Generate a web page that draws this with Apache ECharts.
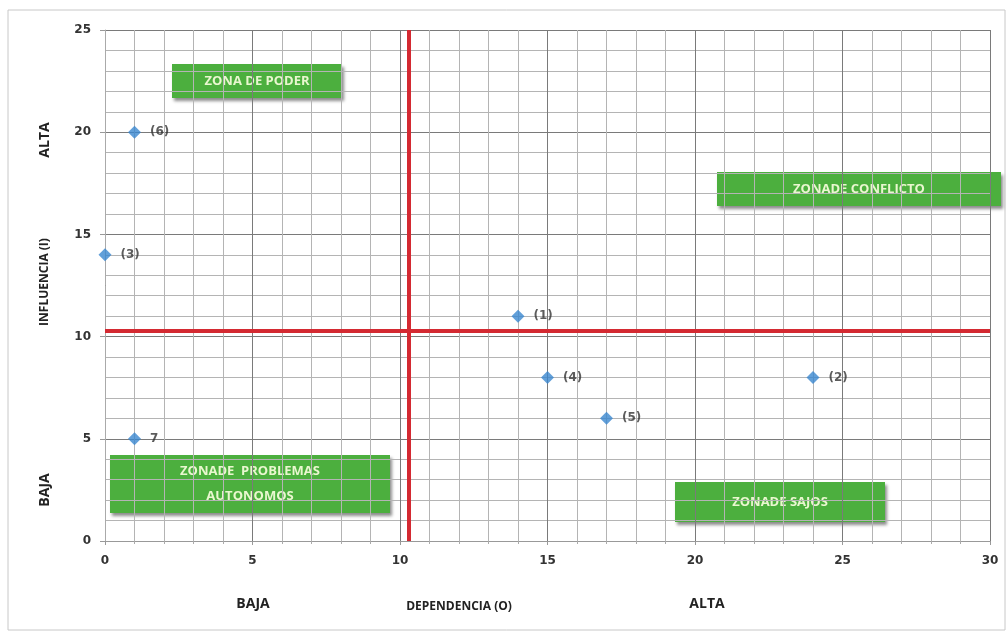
<!DOCTYPE html>
<html>
<head>
<meta charset="utf-8">
<script src="https://cdn.jsdelivr.net/npm/echarts@6/dist/echarts.min.js"></script>
<style>
html,body{margin:0;padding:0;background:#fff;}
#chart{width:1008px;height:634px;}
</style>
</head>
<body>
<div id="chart"></div>
<script>
// Data
const pointLabels = ['(1)', '(2)', '(3)', '(4)', '(5)', '(6)', '7'];
const dependencia = [14, 24, 0, 15, 17, 1, 1];   // x
const influencia  = [11, 8, 14, 8, 6, 20, 5];    // y
const xTicks = [0, 5, 10, 15, 20, 25, 30];
const yTicks = [0, 5, 10, 15, 20, 25];

const meanX = dependencia.reduce((a, b) => a + b, 0) / dependencia.length;
const meanY = influencia.reduce((a, b) => a + b, 0) / influencia.length;

const points = dependencia.map((x, i) => ({ value: [x, influencia[i]], name: pointLabels[i] }));

const chart = echarts.init(document.getElementById('chart'), null, { renderer: 'canvas' });

const tickFont = { color: '#333', fontSize: 12, fontWeight: 'bold', fontFamily: 'DejaVu Sans' };
const titleFont = { fill: '#222', fontSize: 14, fontWeight: 'bold', fontFamily: 'Open Sans, Liberation Sans, sans-serif' };
const green = '#4caf3e';
const boxText = { fill: '#e9f7cf', fontSize: 13, fontWeight: 'bold', fontFamily: 'Open Sans', align: 'center', verticalAlign: 'middle', lineHeight: 25 };
const boxShadow = { shadowBlur: 3, shadowColor: 'rgba(0,0,0,0.45)', shadowOffsetX: 2, shadowOffsetY: 3 };

function box(x, y, w, h, text) {
  return {
    type: 'group', z: 100,
    children: [
      { type: 'rect', shape: { x: x, y: y, width: w, height: h }, style: Object.assign({ fill: green }, boxShadow) },
      { type: 'text', x: x + w / 2, y: y + h / 2, style: Object.assign({ text: text }, boxText) }
    ]
  };
}

const option = {
  backgroundColor: '#fff',
  animation: false,
  grid: { left: 105, right: 18, top: 30, bottom: 93, containLabel: false },
  xAxis: {
    type: 'value', min: xTicks[0], max: xTicks[xTicks.length - 1], interval: 5,
    axisLine: { show: true, lineStyle: { color: '#999', width: 1 } },
    axisTick: { show: true, length: 4, lineStyle: { color: '#999' } },
    axisLabel: Object.assign({ margin: 14 }, tickFont),
    splitLine: { show: true, lineStyle: { color: '#7a7a7a', width: 1 } },
    minorTick: { show: true, splitNumber: 5, length: 3, lineStyle: { color: '#aaa' } },
    minorSplitLine: { show: true, lineStyle: { color: '#b4b4b4', width: 1 } }
  },
  yAxis: {
    type: 'value', min: yTicks[0], max: yTicks[yTicks.length - 1], interval: 5,
    axisLine: { show: true, lineStyle: { color: '#aaa', width: 1 } },
    axisTick: { show: true, length: 5, lineStyle: { color: '#999' } },
    axisLabel: Object.assign({ margin: 14 }, tickFont),
    splitLine: { show: true, lineStyle: { color: '#7a7a7a', width: 1 } },
    minorTick: { show: false, splitNumber: 5 },
    minorSplitLine: { show: true, lineStyle: { color: '#b4b4b4', width: 1 } }
  },
  series: [{
    type: 'scatter',
    symbol: 'diamond',
    symbolSize: 13,
    itemStyle: { color: '#3a87d0' },
    data: points,
    label: {
      show: true, position: 'right', distance: 9,
      formatter: p => p.name,
      color: '#333', fontSize: 12, fontWeight: 'bold', fontFamily: 'DejaVu Sans'
    },
    markLine: {
      silent: true, symbol: 'none', z: 5,
      label: { show: false },
      lineStyle: { color: '#d42a32', width: 4, type: 'solid' },
      data: [{ xAxis: meanX }, { yAxis: meanY }]
    }
  }],
  graphic: [
    { type: 'rect', z: -10, shape: { x: 8, y: 10, width: 997, height: 620 }, style: { fill: 'none', stroke: '#c8c8c8', lineWidth: 1 } },
    box(172, 64, 170, 34, 'ZONA DE PODER'),
    box(717, 172, 284, 34, 'ZONADE CONFLICTO'),
    box(110, 455, 280, 58, 'ZONADE  PROBLEMAS\nAUTONOMOS'),
    box(675, 482, 210, 40, 'ZONADE SAJOS'),
    { type: 'text', x: 45, y: 140, rotation: Math.PI / 2, style: Object.assign({ text: 'ALTA', align: 'center', verticalAlign: 'middle' }, titleFont) },
    { type: 'text', x: 45, y: 282, rotation: Math.PI / 2, style: Object.assign({ text: 'INFLUENCIA (I)', align: 'center', verticalAlign: 'middle' }, titleFont, { fontSize: 12 }) },
    { type: 'text', x: 45, y: 490, rotation: Math.PI / 2, style: Object.assign({ text: 'BAJA', align: 'center', verticalAlign: 'middle' }, titleFont) },
    { type: 'text', x: 253, y: 604, style: Object.assign({ text: 'BAJA', align: 'center', verticalAlign: 'middle' }, titleFont) },
    { type: 'text', x: 459, y: 607, style: Object.assign({ text: 'DEPENDENCIA (O)', align: 'center', verticalAlign: 'middle' }, titleFont, { fontSize: 12 }) },
    { type: 'text', x: 707, y: 604, style: Object.assign({ text: 'ALTA', align: 'center', verticalAlign: 'middle' }, titleFont) }
  ]
};

chart.setOption(option);
</script>
</body>
</html>
